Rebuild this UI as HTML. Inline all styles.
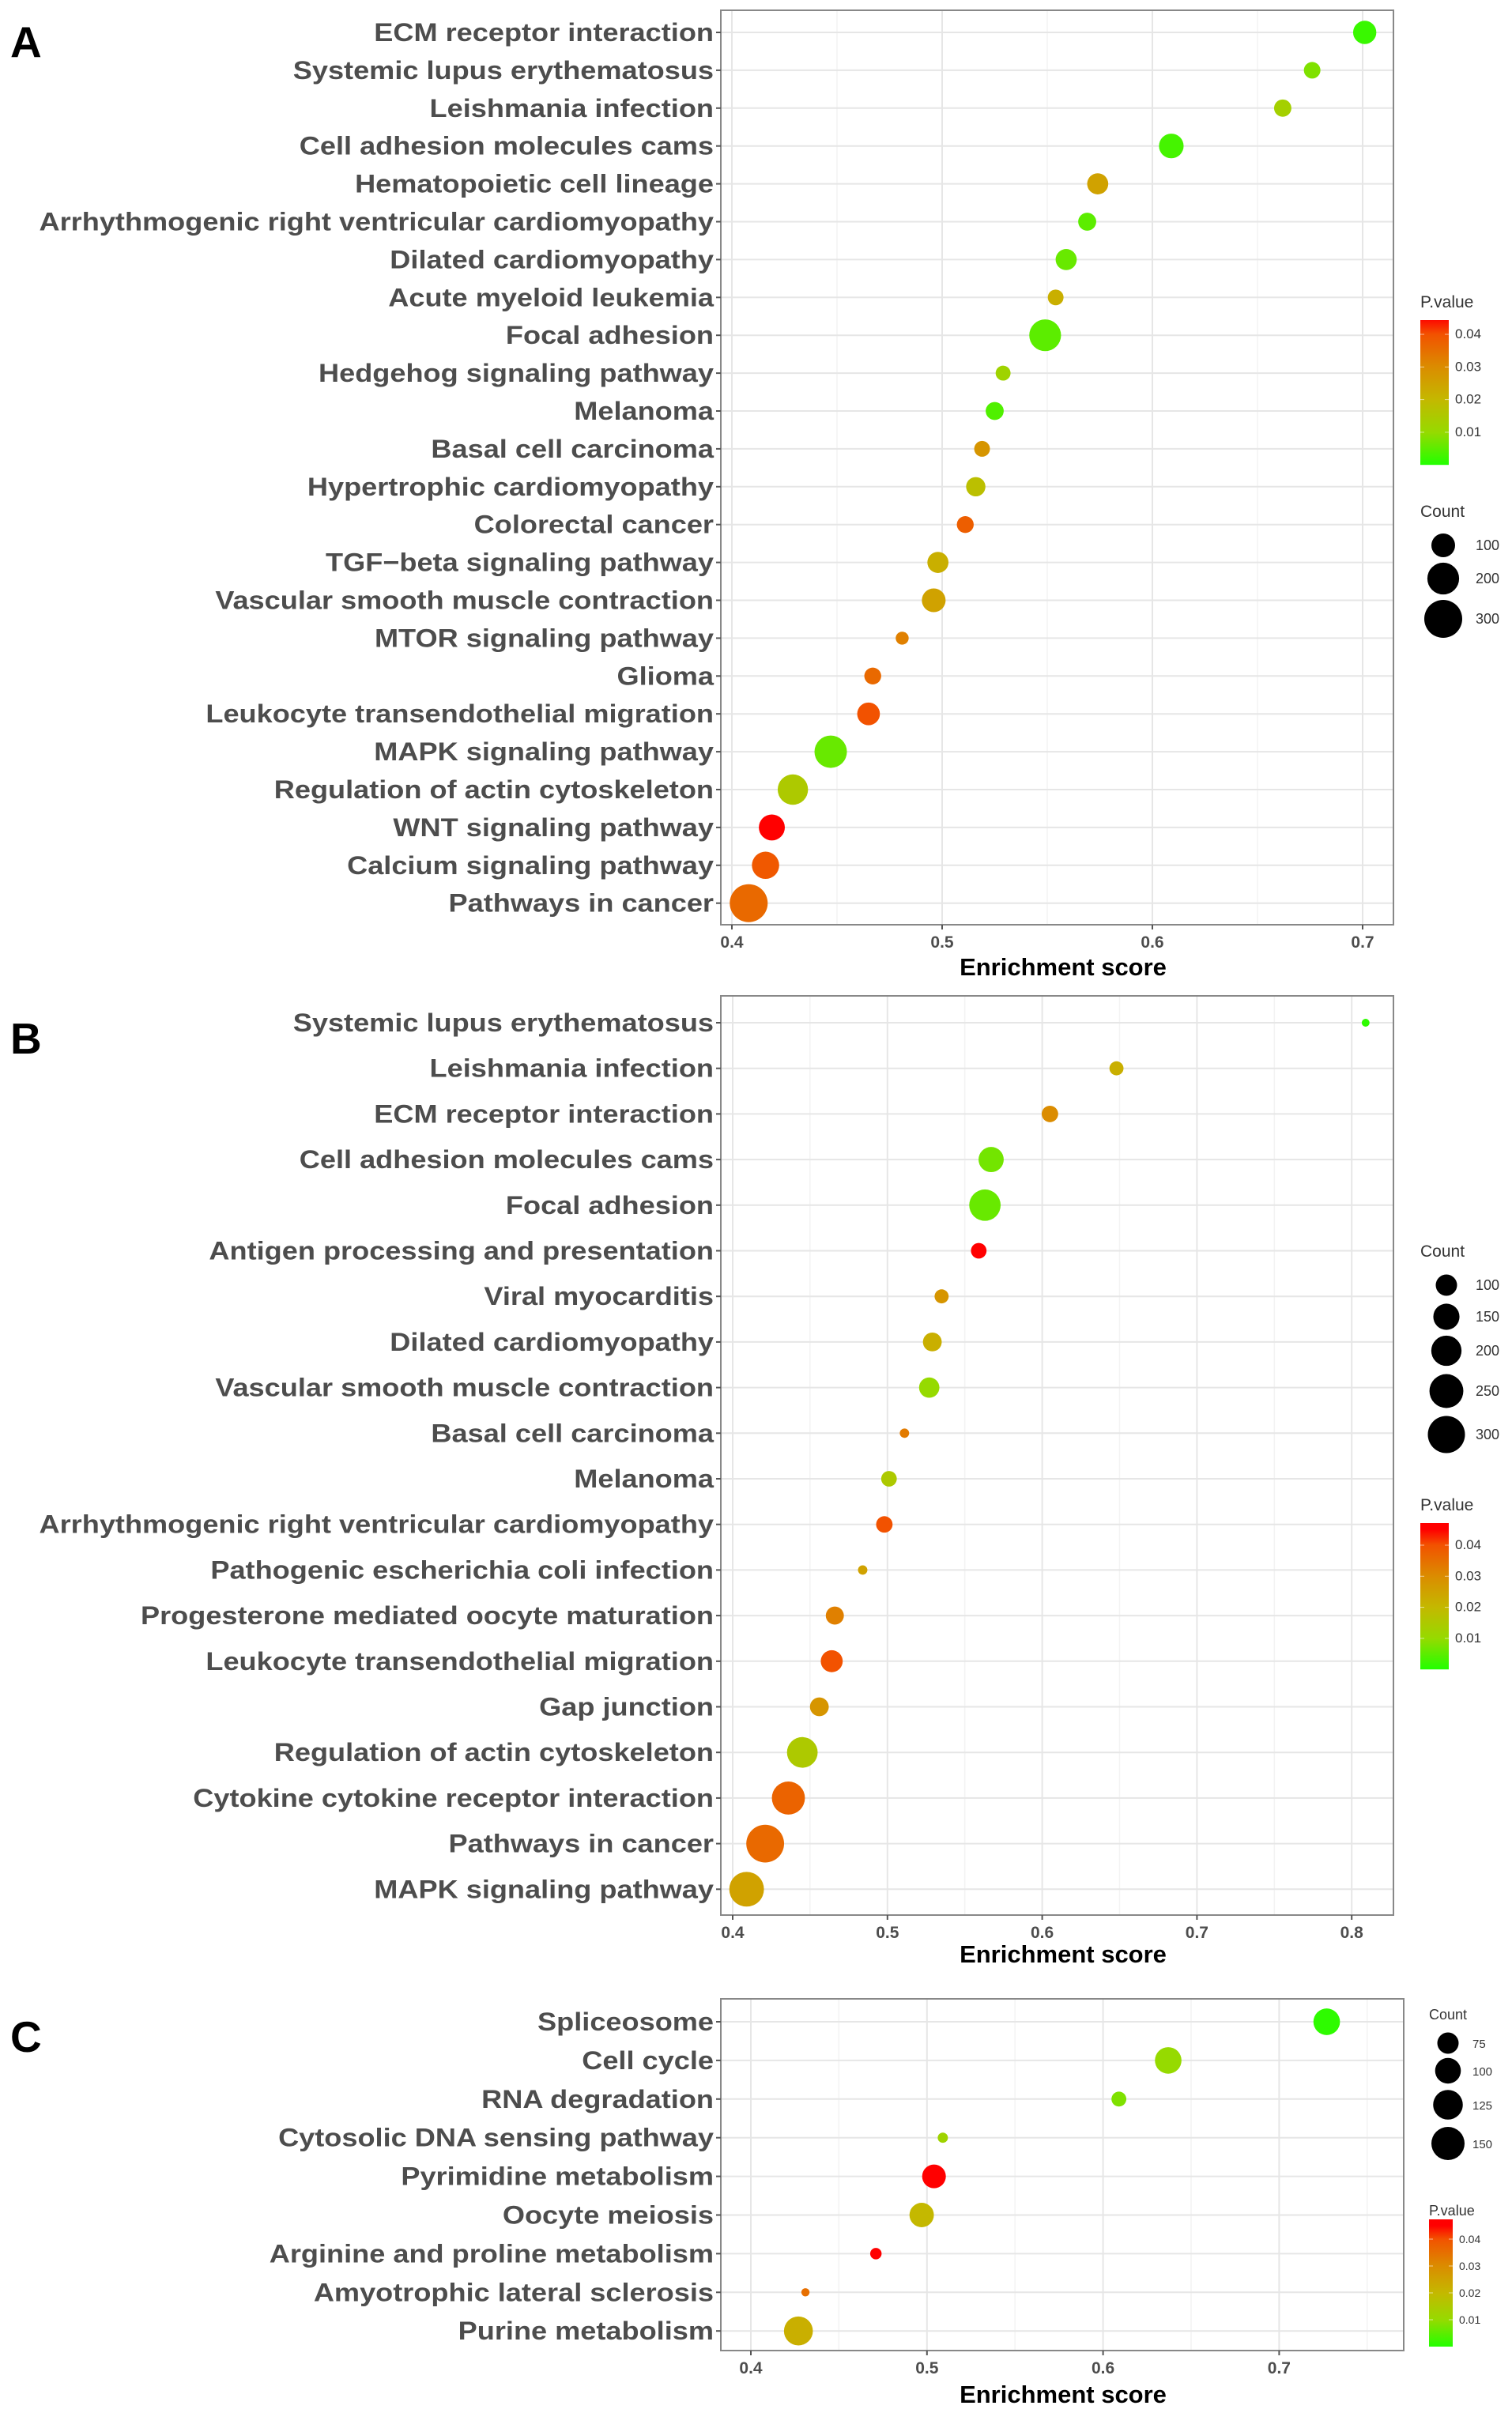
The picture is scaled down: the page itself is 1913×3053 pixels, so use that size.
<!DOCTYPE html>
<html><head><meta charset="utf-8"><style>
html,body{margin:0;padding:0;background:#fff;}
svg{display:block;font-family:"Liberation Sans",Arial,sans-serif;}
</style></head><body>
<svg id="fig" width="1913" height="3053" viewBox="0 0 1913 3053"></svg>
<script>
// ---------- Panel A data ----------
const catsA = ["ECM receptor interaction","Systemic lupus erythematosus","Leishmania infection","Cell adhesion molecules cams","Hematopoietic cell lineage","Arrhythmogenic right ventricular cardiomyopathy","Dilated cardiomyopathy","Acute myeloid leukemia","Focal adhesion","Hedgehog signaling pathway","Melanoma","Basal cell carcinoma","Hypertrophic cardiomyopathy","Colorectal cancer","TGF−beta signaling pathway","Vascular smooth muscle contraction","MTOR signaling pathway","Glioma","Leukocyte transendothelial migration","MAPK signaling pathway","Regulation of actin cytoskeleton","WNT signaling pathway","Calcium signaling pathway","Pathways in cancer"];
const scoreA = [0.701,0.676,0.662,0.609,0.574,0.569,0.559,0.554,0.549,0.529,0.525,0.519,0.516,0.511,0.498,0.496,0.481,0.467,0.465,0.447,0.429,0.419,0.416,0.408];
const countA = [95,40,45,110,75,50,75,35,200,30,50,35,60,42,75,100,20,42,90,210,180,125,140,300];
const pvalA = [0.002,0.008,0.013,0.003,0.025,0.005,0.006,0.022,0.005,0.012,0.004,0.028,0.018,0.038,0.022,0.025,0.032,0.036,0.040,0.006,0.015,0.045,0.039,0.036];
const ticksA = [0.4,0.5,0.6,0.7];
const countLegA = [100,200,300];
// ---------- Panel B data ----------
const catsB = ["Systemic lupus erythematosus","Leishmania infection","ECM receptor interaction","Cell adhesion molecules cams","Focal adhesion","Antigen processing and presentation","Viral myocarditis","Dilated cardiomyopathy","Vascular smooth muscle contraction","Basal cell carcinoma","Melanoma","Arrhythmogenic right ventricular cardiomyopathy","Pathogenic escherichia coli infection","Progesterone mediated oocyte maturation","Leukocyte transendothelial migration","Gap junction","Regulation of actin cytoskeleton","Cytokine cytokine receptor interaction","Pathways in cancer","MAPK signaling pathway"];
const scoreB = [0.809,0.648,0.605,0.567,0.563,0.559,0.535,0.529,0.527,0.511,0.501,0.498,0.484,0.466,0.464,0.456,0.445,0.436,0.421,0.409];
const countB = [14,44,60,139,215,54,44,78,91,20,54,60,20,72,106,78,205,238,310,262];
const pvalB = [0.001,0.022,0.030,0.007,0.006,0.045,0.028,0.022,0.010,0.033,0.015,0.040,0.025,0.032,0.040,0.028,0.015,0.037,0.036,0.025];
const ticksB = [0.4,0.5,0.6,0.7,0.8];
const countLegB = [100,150,200,250,300];
// ---------- Panel C data ----------
const catsC = ["Spliceosome","Cell cycle","RNA degradation","Cytosolic DNA sensing pathway","Pyrimidine metabolism","Oocyte meiosis","Arginine and proline metabolism","Amyotrophic lateral sclerosis","Purine metabolism"];
const scoreC = [0.727,0.637,0.609,0.509,0.504,0.497,0.471,0.431,0.427];
const countC = [105,105,45,28,88,92,32,22,120];
const pvalC = [0.001,0.010,0.008,0.012,0.046,0.020,0.045,0.035,0.022];
const ticksC = [0.4,0.5,0.6,0.7];
const countLegC = [75,100,125,150];
const pTicks = [0.01,0.02,0.03,0.04];

const NS = "http://www.w3.org/2000/svg";
const svg = document.getElementById('fig');
function mk(tag, attrs, parent, text){
  const e = document.createElementNS(NS, tag);
  for (const k in attrs) e.setAttribute(k, attrs[k]);
  if (text !== undefined) e.textContent = text;
  (parent||svg).appendChild(e);
  return e;
}
const cStops = [[0,[34,255,0]],[0.01,[150,218,0]],[0.02,[196,184,0]],[0.03,[219,140,0]],[0.04,[242,82,0]],[0.045,[255,0,0]]];
function pColor(p){
  if (p<=cStops[0][0]) return 'rgb('+cStops[0][1].join(',')+')';
  for (let i=1;i<cStops.length;i++){
    if (p<=cStops[i][0]){
      const a=cStops[i-1], b=cStops[i], t=(p-a[0])/(b[0]-a[0]);
      return 'rgb('+a[1].map((v,j)=>Math.round(v+(b[1][j]-v)*t)).join(',')+')';
    }
  }
  return 'rgb(255,0,0)';
}

function panel(cfg){
  const g = mk('g', {}, svg);
  
  
  const xs = v => cfg.x0 + (v - cfg.v0) * cfg.pxPer;
  const ys = i => cfg.yFirst + i * cfg.step;
  const rs = c => cfg.ra + cfg.rb * Math.sqrt(c);
  const L = mk('text', {x:13, y:cfg.letterY, 'font-size':55, 'font-weight':'bold', fill:'#000'}, g, cfg.letter);
  
  
  mk('rect', {x:cfg.left, y:cfg.top, width:cfg.right-cfg.left, height:cfg.bottom-cfg.top, fill:'#fff'}, g);
  for (let i=0;i<cfg.ticks.length;i++){
    const xm = xs(cfg.ticks[i] + 0.05);
    if (xm < cfg.right) mk('line', {x1:xm, x2:xm, y1:cfg.top, y2:cfg.bottom, stroke:'#f3f3f3', 'stroke-width':1.5}, g);
  }
  cfg.ticks.forEach(t=>{
    const x = xs(t);
    mk('line', {x1:x, x2:x, y1:cfg.top, y2:cfg.bottom, stroke:'#e6e6e6', 'stroke-width':2}, g);
  });
  cfg.cats.forEach((c,i)=>{
    const y = ys(i);
    mk('line', {x1:cfg.left, x2:cfg.right, y1:y, y2:y, stroke:'#e6e6e6', 'stroke-width':2}, g);
  });
  mk('rect', {x:cfg.left, y:cfg.top, width:cfg.right-cfg.left, height:cfg.bottom-cfg.top, fill:'none', stroke:'#888', 'stroke-width':2}, g);
  cfg.cats.forEach((c,i)=>{
    const y = ys(i);
    mk('line', {x1:cfg.left-6, x2:cfg.left, y1:y, y2:y, stroke:'#555', 'stroke-width':2}, g);
    const t = mk('text', {x:0, y:0, transform:'translate('+(cfg.left-9)+','+(y+11)+') scale(1.13,1)', 'font-size':32, 'font-weight':'bold', fill:'#4d4d4d', 'text-anchor':'end'}, g, c);
    
    
  });
  cfg.ticks.forEach(tv=>{
    const x = xs(tv);
    mk('line', {x1:x, x2:x, y1:cfg.bottom, y2:cfg.bottom+6, stroke:'#555', 'stroke-width':2}, g);
    const t = mk('text', {x:x, y:cfg.bottom+29, 'font-size':21, 'font-weight':'bold', fill:'#4d4d4d', 'text-anchor':'middle'}, g, tv.toFixed(1));
    
    
  });
  const at = mk('text', {x:cfg.titleX, y:cfg.titleY, 'font-size':31, 'font-weight':'bold', fill:'#000', 'text-anchor':'middle'}, g, 'Enrichment score');
  
  
  cfg.scores.forEach((s,i)=>{
    const c = mk('circle', {cx:xs(s), cy:ys(i), r:rs(cfg.counts[i]), fill:pColor(cfg.pvals[i])}, g);
    
    
  });
  const cl = mk('g', {}, g);
  
  
  mk('text', {x:cfg.legX, y:cfg.countTitleY, 'font-size':cfg.legFont+3, fill:'#333'}, cl, 'Count');
  cfg.countLeg.forEach((c,i)=>{
    const y = cfg.countLegYs[i];
    const e = mk('circle', {cx:cfg.legCircX, cy:y, r:rs(c), fill:'#000'}, cl);
    
    
    mk('text', {x:cfg.legLabX, y:y+6, 'font-size':cfg.legFont, fill:'#333'}, cl, String(c));
  });
  const pl = mk('g', {}, g);
  
  
  mk('text', {x:cfg.legX, y:cfg.pTitleY, 'font-size':cfg.legFont+3, fill:'#333'}, pl, 'P.value');
  const gid = 'grad'+cfg.letter;
  const defs = mk('defs', {}, pl);
  const lg = mk('linearGradient', {id:gid, x1:0, y1:1, x2:0, y2:0}, defs);
  const pMax = 0.04 + (cfg.barTick04 - cfg.barTop) / cfg.pxPerP * 0.01;
  cStops.forEach(s=>{
    if (s[0] <= pMax) mk('stop', {offset:s[0]/pMax, 'stop-color':'rgb('+s[1].join(',')+')'}, lg);
  });
  mk('stop', {offset:1, 'stop-color':pColor(pMax)}, lg);
  const barBottom = cfg.barTick04 + 4*cfg.pxPerP;
  mk('rect', {x:cfg.barX, y:cfg.barTop, width:cfg.barW, height:barBottom-cfg.barTop, fill:'url(#'+gid+')'}, pl);
  pTicks.forEach(p=>{
    const y = barBottom - p*100*cfg.pxPerP;
    mk('line', {x1:cfg.barX, x2:cfg.barX+5, y1:y, y2:y, stroke:'#fff', 'stroke-opacity':0.6, 'stroke-width':1}, pl);
    mk('line', {x1:cfg.barX+cfg.barW-5, x2:cfg.barX+cfg.barW, y1:y, y2:y, stroke:'#fff', 'stroke-opacity':0.6, 'stroke-width':1}, pl);
    mk('text', {x:cfg.barX+cfg.barW+8, y:y+5, 'font-size':cfg.legFont-1, fill:'#333'}, pl, p.toFixed(2));
  });
}

panel({name:'panel-a', letter:'A', letterY:72, left:912, right:1763, top:13, bottom:1170,
  x0:926, v0:0.4, pxPer:2660, yFirst:41, step:47.9, ticks:ticksA, titleX:1345, titleY:1234,
  cats:catsA, scores:scoreA, counts:countA, pvals:pvalA, ra:2.7, rb:1.23,
  legX:1797, legFont:18, countTitleY:654, countLeg:countLegA, countLegYs:[690,732,783], legCircX:1826, legLabX:1867,
  pTitleY:389, barX:1797, barW:36, barTop:405, barTick04:423, pxPerP:41.3});

panel({name:'panel-b', letter:'B', letterY:1333, left:912, right:1763, top:1260, bottom:2423,
  x0:927, v0:0.4, pxPer:1958, yFirst:1294, step:57.7, ticks:ticksB, titleX:1345, titleY:2483,
  cats:catsB, scores:scoreB, counts:countB, pvals:pvalB, ra:-0.16, rb:1.366,
  legX:1797, legFont:18, countTitleY:1590, countLeg:countLegB, countLegYs:[1626,1666,1709,1760,1815], legCircX:1830, legLabX:1867,
  pTitleY:1911, barX:1797, barW:36, barTop:1927, barTick04:1955, pxPerP:39.3});

panel({name:'panel-c', letter:'C', letterY:2596, left:912, right:1776, top:2529, bottom:2974,
  x0:950, v0:0.4, pxPer:2228, yFirst:2558, step:48.9, ticks:ticksC, titleX:1345, titleY:3040,
  cats:catsC, scores:scoreC, counts:countC, pvals:pvalC, ra:-4.6, rb:2.09,
  legX:1808, legFont:15, countTitleY:2555, countLeg:countLegC, countLegYs:[2585,2620,2663,2712], legCircX:1832, legLabX:1863,
  pTitleY:2803, barX:1808, barW:30, barTop:2808, barTick04:2833, pxPerP:34});
</script>
</body></html>
